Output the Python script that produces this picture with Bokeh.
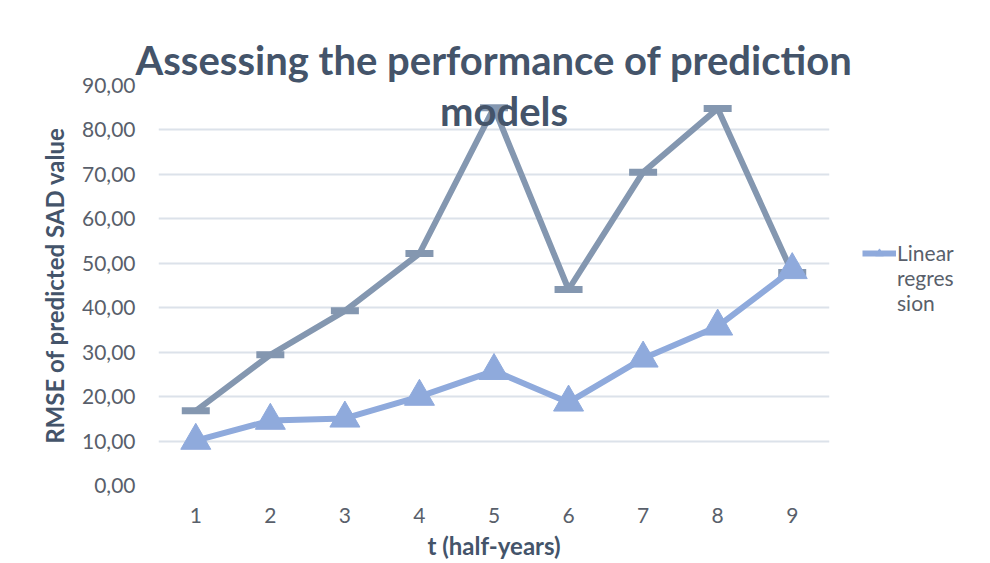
from bokeh.plotting import figure
from bokeh.models import Range1d, FixedTicker, Label, Legend, LegendItem, CustomJSTickFormatter, Title
from bokeh.embed import file_html
from bokeh.resources import INLINE

# ---- data ----
t_half_years = [1, 2, 3, 4, 5, 6, 7, 8, 9]
linear_regression = [10.1, 14.6, 15.1, 20.0, 25.8, 18.7, 28.6, 35.8, 48.5]
second_model = [16.8, 29.4, 39.3, 52.2, 85.0, 44.1, 70.5, 84.8, 47.9]
y_ticks = [0, 10, 20, 30, 40, 50, 60, 70, 80, 90]

title_line1 = "Assessing the performance of prediction"
title_line2 = "models"
x_title = "t (half-years)"
y_title = "RMSE of predicted SAD value"
legend_lines = ["Linear", "regres", "sion"]

FONT = "Lato"
DARK = "#44546A"
TICK = "#595F6B"
GRID = "#DCE2EA"
GREY_SERIES = "#8497B0"
BLUE_SERIES = "#8FAADC"

p = figure(frame_width=671, frame_height=400, output_backend="svg", toolbar_location=None,
           x_range=Range1d(0.5, 9.5), y_range=Range1d(0, 90),
           min_border_left=158, min_border_right=150, min_border_top=85, min_border_bottom=77)
p.outline_line_color = None
p.background_fill_color = "white"
p.border_fill_color = "white"

# title line 1 above the frame
p.add_layout(Title(text=title_line1, align="center", offset=17, standoff=3,
                   text_font=FONT, text_font_style="bold", text_font_size="40px",
                   text_color=DARK), "above")

# axes
p.xaxis.ticker = FixedTicker(ticks=t_half_years)
p.yaxis.ticker = FixedTicker(ticks=y_ticks)
p.yaxis.formatter = CustomJSTickFormatter(code="return tick.toFixed(2).replace('.', ',');")
for ax in (p.xaxis[0], p.yaxis[0]):
    ax.axis_line_color = None
    ax.major_tick_line_color = None
    ax.minor_tick_line_color = None
    ax.major_label_text_font = FONT
    ax.major_label_text_font_size = "21px"
    ax.major_label_text_color = TICK
    ax.axis_label_text_font = FONT
    ax.axis_label_text_font_style = "bold"
    ax.axis_label_text_font_size = "24px"
    ax.axis_label_text_color = DARK
p.xaxis.axis_label = x_title
p.yaxis.axis_label = y_title
p.xaxis.major_label_standoff = 16
p.xaxis.axis_label_standoff = 5
p.yaxis.major_label_standoff = 17
p.yaxis.axis_label_standoff = 10

p.xgrid.grid_line_color = None
p.ygrid.grid_line_color = GRID
p.ygrid.grid_line_width = 2

# series
g_line = p.line(t_half_years, second_model, line_color=GREY_SERIES, line_width=6)
g_mark = p.scatter(t_half_years, second_model, marker="dash", size=28,
                   line_color=GREY_SERIES, line_width=7)
b_line = p.line(t_half_years, linear_regression, line_color=BLUE_SERIES, line_width=6)
b_mark = p.scatter(t_half_years, linear_regression, marker="triangle", size=30,
                   fill_color=BLUE_SERIES, line_color=BLUE_SERIES)
# empty, invisible renderer so the wrapped legend text lines carry no glyph
blank = p.scatter(x=[], y=[], alpha=0)

legend = Legend(items=[LegendItem(label=legend_lines[0], renderers=[b_line, b_mark]),
                       LegendItem(label=legend_lines[1], renderers=[blank]),
                       LegendItem(label=legend_lines[2], renderers=[blank])],
                location=(33, 170), orientation="vertical", spacing=0,
                label_text_font=FONT, label_text_font_size="21px", label_text_color=TICK,
                glyph_width=34, glyph_height=20, label_height=25, label_standoff=1,
                padding=0, margin=0, border_line_color=None, background_fill_alpha=0)
p.add_layout(legend, "right")

# title line 2 (inside the frame, like the reference)
p.add_layout(Label(x=5, y=90, text=title_line2, x_offset=10, y_offset=-25,
                   text_align="center", text_baseline="alphabetic",
                   text_font=FONT, text_font_style="bold", text_font_size="40px",
                   text_color=DARK))

open("out.html", "w").write(file_html(p, INLINE))
